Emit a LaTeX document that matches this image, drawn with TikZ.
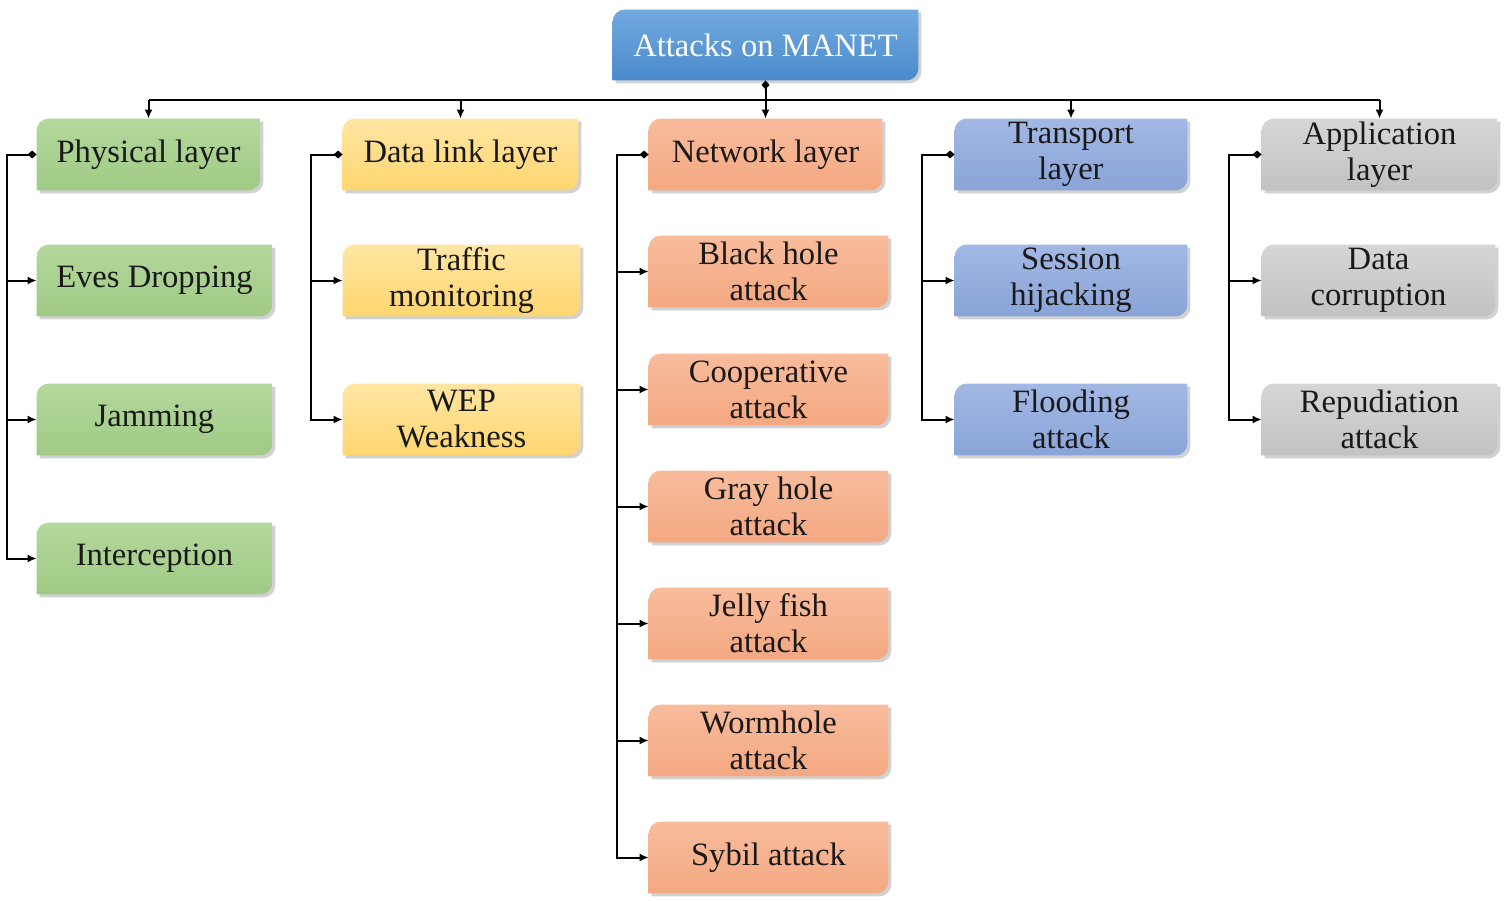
\documentclass[tikz,border=0pt]{standalone}
\usepackage{fontspec}
\setmainfont{Liberation Serif}
\usetikzlibrary{arrows.meta,calc}
\pgfdeclarelayer{background}
\pgfsetlayers{background,main}

\definecolor{gTop}{HTML}{B3D89C}\definecolor{gBot}{HTML}{A0CA85}
\definecolor{yTop}{HTML}{FFE6A3}\definecolor{yBot}{HTML}{FFD670}
\definecolor{oTop}{HTML}{F8BC9C}\definecolor{oBot}{HTML}{F4A882}
\definecolor{bTop}{HTML}{A2B8E4}\definecolor{bBot}{HTML}{89A4D8}
\definecolor{sTop}{HTML}{D6D6D6}\definecolor{sBot}{HTML}{C2C2C2}
\definecolor{rTop}{HTML}{72AAE0}\definecolor{rBot}{HTML}{4A8ACB}

\newcommand\dpath[2]{%
 let \p1=(#1.north west),\p2=(#1.south east) in
 (\x1+#2,\y2-#2) -- (\x1+#2,\y1-6pt-#2) .. controls (\x1+#2,\y1-2.7pt-#2) and (\x1+2.7pt+#2,\y1-#2) .. (\x1+6pt+#2,\y1-#2)
 -- (\x2+#2,\y1-#2) -- (\x2+#2,\y2+6pt-#2) .. controls (\x2+#2,\y2+2.7pt-#2) and (\x2-2.7pt+#2,\y2-#2) .. (\x2-6pt+#2,\y2-#2) -- cycle}
\newcommand\dshape[3]{%
 \fill[black,opacity=.18] \dpath{#1}{1.5pt};
 \shade[top color=#2,bottom color=#3] \dpath{#1}{0pt};}

\tikzset{
 box/.style={inner sep=0pt, minimum height=35.5pt, align=center,
   font=\fontsize{16.3}{18}\selectfont, text=black!90},
 conn/.style={line width=1pt, black},
 arr/.style={conn, -{Latex[length=4.5pt,width=4pt]}},
 darr/.style={conn, {Diamond[length=4.5pt,width=4pt]}-{Latex[length=4.5pt,width=4pt]}},
}

\begin{document}
\begin{tikzpicture}[x=0.5pt,y=-0.5pt]
\useasboundingbox (0,0) rectangle (1504,900);

% root
\node[box, minimum width=152.5pt, minimum height=35pt, text=white] (root) at (765.5,45) {Attacks on MANET};

% physical
\node[box, minimum width=111.5pt] (phys) at (148.5,154.5) {Physical layer};
\node[box, minimum width=117.5pt] (eves) at (154.5,280.5) {Eves Dropping};
\node[box, minimum width=117.5pt] (jam) at (154.5,419.5) {Jamming};
\node[box, minimum width=117.5pt] (inter) at (154.5,558.5) {Interception};

% data link
\node[box, minimum width=117.5pt] (dl) at (460.5,154.5) {Data link layer};
\node[box, minimum width=118.5pt] (traf) at (461.5,280.5) {Traffic\\monitoring};
\node[box, minimum width=118.5pt] (wep) at (461.5,419.5) {WEP\\Weakness};

% network
\node[box, minimum width=116.5pt] (net) at (765.5,154.5) {Network layer};
\node[box, minimum width=119.5pt] (bh) at (768.5,271.5) {Black hole\\attack};
\node[box, minimum width=119.5pt] (coop) at (768.5,389.5) {Cooperative\\attack};
\node[box, minimum width=119.5pt] (gray) at (768.5,506.5) {Gray hole\\attack};
\node[box, minimum width=119.5pt] (jelly) at (768.5,623.5) {Jelly fish\\attack};
\node[box, minimum width=119.5pt] (worm) at (768.5,740.5) {Wormhole\\attack};
\node[box, minimum width=119.5pt] (sybil) at (768.5,857.5) {Sybil attack};

% transport
\node[box, minimum width=116pt] (trans) at (1071,154.5) {Transport\\layer};
\node[box, minimum width=116pt] (sess) at (1071,280.5) {Session\\hijacking};
\node[box, minimum width=116pt] (flood) at (1071,419.5) {Flooding\\attack};

% application
\node[box, minimum width=117.5pt] (app) at (1379.5,154.5) {Application\\layer};
\node[box, minimum width=116.5pt] (data) at (1378.5,280.5) {Data\\corruption};
\node[box, minimum width=117.5pt] (rep) at (1379.5,419.5) {Repudiation\\attack};

\begin{pgfonlayer}{background}
 \dshape{root}{rTop}{rBot}
 \foreach \bx in {phys,eves,jam,inter}{\dshape{\bx}{gTop}{gBot}}
 \foreach \bx in {dl,traf,wep}{\dshape{\bx}{yTop}{yBot}}
 \foreach \bx in {net,bh,coop,gray,jelly,worm,sybil}{\dshape{\bx}{oTop}{oBot}}
 \foreach \bx in {trans,sess,flood}{\dshape{\bx}{bTop}{bBot}}
 \foreach \bx in {app,data,rep}{\dshape{\bx}{sTop}{sBot}}
\end{pgfonlayer}

% bus
\coordinate (busy) at (0,100);
\draw[conn] (phys.north |- busy) -- (app.north |- busy);
\draw[darr] (root.south) -- (net.north);
\foreach \bx in {phys,dl,trans,app}{\draw[arr] (\bx.north |- busy) -- (\bx.north);}

% spines
\coordinate (s1) at (7,0);
\coordinate (s2) at (311,0);
\coordinate (s3) at (617,0);
\coordinate (s4) at (922,0);
\coordinate (s5) at (1229,0);

\draw[darr] (phys.west) -- (phys.west -| s1) -- (inter.west -| s1) -- (inter.west);
\foreach \bx in {eves,jam}{\draw[arr] (\bx.west -| s1) -- (\bx.west);}

\draw[darr] (dl.west) -- (dl.west -| s2) -- (wep.west -| s2) -- (wep.west);
\draw[arr] (traf.west -| s2) -- (traf.west);

\draw[darr] (net.west) -- (net.west -| s3) -- (sybil.west -| s3) -- (sybil.west);
\foreach \bx in {bh,coop,gray,jelly,worm}{\draw[arr] (\bx.west -| s3) -- (\bx.west);}

\draw[darr] (trans.west) -- (trans.west -| s4) -- (flood.west -| s4) -- (flood.west);
\draw[arr] (sess.west -| s4) -- (sess.west);

\draw[darr] (app.west) -- (app.west -| s5) -- (rep.west -| s5) -- (rep.west);
\draw[arr] (data.west -| s5) -- (data.west);
\end{tikzpicture}
\end{document}
